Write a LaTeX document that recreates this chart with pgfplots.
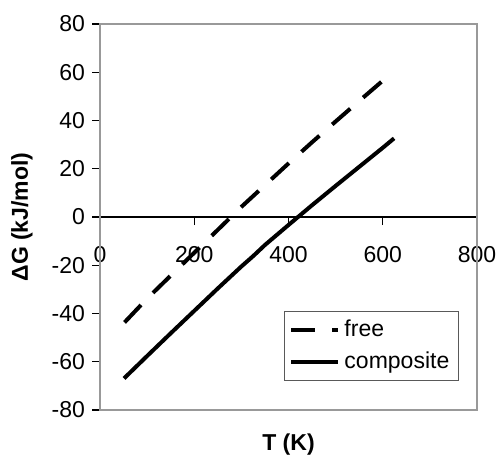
\documentclass[border=0pt]{standalone}
\usepackage{fontspec}
\setmainfont{Liberation Sans}
\usepackage{pgfplots}
\pgfplotsset{compat=1.18}
\begin{document}
\begin{tikzpicture}
\begin{axis}[name=ax,
 scale only axis, width=188.5pt, height=193pt,
 xmin=0,xmax=800,ymin=-80,ymax=80,
 axis x line=middle, axis y line=left,
 axis line style={-, black, line width=0.6pt},
 xtick={0,200,...,800}, ytick={-80,-60,...,80},
 hide obscured x ticks=false, hide obscured y ticks=false,
 tick align=outside, major tick length=4pt,
 tick style={black, line width=0.6pt},
 ticklabel style={font=\fontsize{11.5}{13}\selectfont},
 /pgf/number format/assume math mode=true,
 xticklabel style={anchor=center, yshift=-15pt},
 legend style={at={(0.952,0.075)}, anchor=south east, draw=gray!70!black, line width=0.6pt,
   font=\fontsize{11.5}{13}\selectfont, row sep=2pt, inner sep=2.5pt, cells={anchor=west}},
 legend image code/.code={\draw[#1] (0pt,0pt) -- (23.5pt,0pt);},
 clip=false
]
\draw[gray!80, line width=0.6pt] (rel axis cs:0,0) rectangle (rel axis cs:1,1);
\addplot[black, line width=2pt, dash pattern=on 12pt off 8.5pt] coordinates {
(52,-43.7)(100,-33.8)(150,-24.3)(200,-14.8)(250,-5.3)(300,4.2)(350,13.2)(400,22.2)(450,31.0)(500,39.6)(550,48.1)(600,56.5)(610,58.2)};
\addlegendentry{free}
\addplot[black, line width=2pt] coordinates {
(51,-66.9)(100,-57.6)(150,-48.2)(200,-38.9)(250,-29.6)(300,-20.5)(325,-16.2)(350,-11.6)(400,-3.3)(450,4.9)(500,12.9)(550,20.8)(600,28.7)(624,32.6)};
\addlegendentry{composite}
\end{axis}
\node[font=\bfseries\fontsize{11.5}{13}\selectfont] at ([yshift=-17.5pt]ax.south) {T (K)};
\node[font=\bfseries\fontsize{11.5}{13}\selectfont, rotate=90] at ([xshift=-39pt]ax.west) {ΔG (kJ/mol)};
\pgfresetboundingbox
\path[use as bounding box] ([shift={(-50pt,-27pt)}]ax.south west) rectangle ([shift={(9.5pt,12pt)}]ax.north east);
\end{tikzpicture}
\end{document}
